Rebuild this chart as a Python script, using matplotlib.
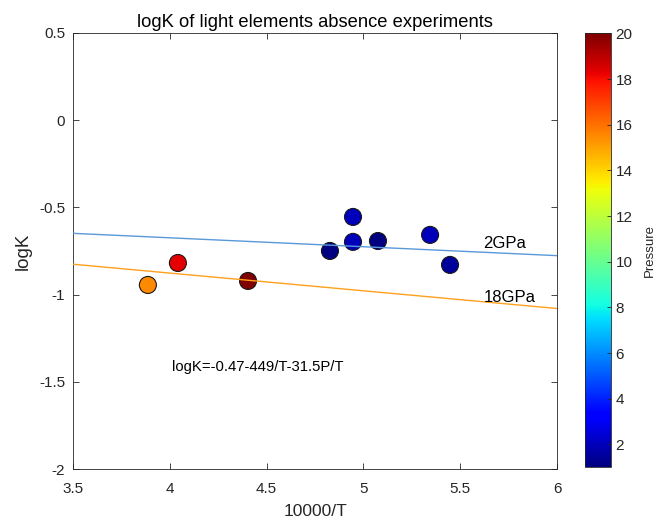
import matplotlib
matplotlib.use("Agg")
import matplotlib.pyplot as plt
import numpy as np

plt.rcParams['font.family'] = ['Liberation Sans', 'DejaVu Sans']

# Data
x_vals = [3.887, 4.042, 4.404, 4.827, 4.946, 4.946, 5.075, 5.344, 5.447]
logk_vals = [-0.945, -0.819, -0.922, -0.750, -0.555, -0.698, -0.693, -0.658, -0.830]
pressure = [15.5, 18.3, 20, 1, 2, 2, 1, 2, 1.5]

line_x = [3.5, 6.0]
line_2gpa = [-0.649, -0.777]
line_18gpa = [-0.826, -1.080]

xticks = [3.5, 4, 4.5, 5, 5.5, 6]
xticklabels = ['3.5', '4', '4.5', '5', '5.5', '6']
yticks = [-2, -1.5, -1, -0.5, 0, 0.5]
yticklabels = ['-2', '-1.5', '-1', '-0.5', '0', '0.5']
cticks = [2, 4, 6, 8, 10, 12, 14, 16, 18, 20]

fig = plt.figure(figsize=(6.57, 5.22), dpi=100)
ax = fig.add_axes([0.111, 0.1015, 0.737, 0.8355])
tc = (0.15, 0.15, 0.15)

sc = ax.scatter(x_vals, logk_vals, c=pressure, cmap='jet', vmin=1, vmax=20,
                s=150, edgecolors=(0.1, 0.1, 0.1), linewidths=0.8, zorder=2)
ax.plot(line_x, line_2gpa, color=(0.35, 0.6, 0.85), lw=1.0, zorder=3)
ax.plot(line_x, line_18gpa, color='#ff9f1c', lw=1.0, zorder=3)

ax.text(5.62, -0.71, '2GPa', fontsize=12, color='black', va='center', ha='left')
ax.text(5.62, -1.014, '18GPa', fontsize=12, color='black', va='center', ha='left')
ax.text(4.01, -1.415, 'logK=-0.47-449/T-31.5P/T', fontsize=10.75, color='black', va='center', ha='left')

ax.set_xlim(3.5, 6)
ax.set_ylim(-2, 0.5)
ax.set_xticks(xticks)
ax.set_xticklabels(xticklabels)
ax.set_yticks(yticks)
ax.set_yticklabels(yticklabels)
ax.tick_params(direction='in', top=True, right=True, labelsize=11, colors=tc, length=4, width=0.6)
ax.tick_params(axis='x', pad=9)
ax.tick_params(axis='y', pad=5.5)
for s in ax.spines.values():
    s.set_color(tc)
    s.set_linewidth(0.6)
ax.set_xlabel('10000/T', fontsize=12.5, color=tc, labelpad=6)
ax.set_ylabel('logK', fontsize=13.5, color=tc, labelpad=5)
ax.set_title('logK of light elements absence experiments', fontsize=13.2, color='black', pad=4)

cax = fig.add_axes([0.890, 0.105, 0.0396, 0.831])
cb = fig.colorbar(sc, cax=cax)
cb.set_ticks(cticks)
cb.ax.tick_params(direction='in', labelsize=11, colors=tc, length=3, width=0.6)
cb.outline.set_edgecolor(tc)
cb.outline.set_linewidth(0.6)
cb.set_label('Pressure', fontsize=9.5, color=tc, labelpad=8)

fig.savefig('out.png', dpi=100)
